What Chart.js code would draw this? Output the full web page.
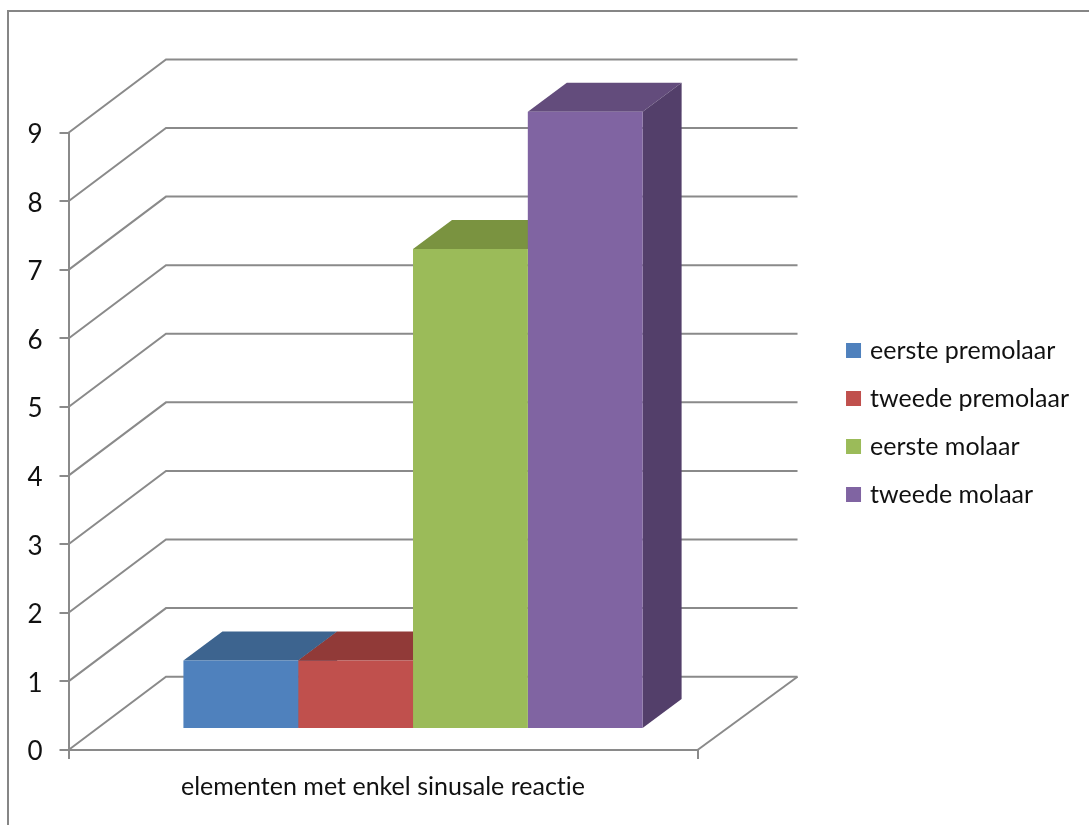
<!DOCTYPE html>
<html>
<head>
<meta charset="utf-8">
<title>Elementen met enkel sinusale reactie</title>
<script src="https://cdn.jsdelivr.net/npm/chart.js@4"></script>
<style>
  html, body { margin: 0; padding: 0; background: #fff; overflow: hidden; }
  #stage { position: relative; width: 1089px; height: 825px; }
  #frame { position: absolute; left: 7px; top: 10px; right: -4px; bottom: -4px;
           border: 2px solid #868686; pointer-events: none; }
  canvas { position: absolute; left: 0; top: 0; }
</style>
</head>
<body>
<div id="stage">
  <div id="frame"></div>
  <canvas id="chart" width="1089" height="825"></canvas>
</div>
<script>
// Data
const categories = ['elementen met enkel sinusale reactie'];
const seriesNames = ['eerste premolaar', 'tweede premolaar', 'eerste molaar', 'tweede molaar'];
const seriesValues = [[1], [1], [7], [9]];
const yTicks = [0, 1, 2, 3, 4, 5, 6, 7, 8, 9];

// Styling for the three visible faces of each column
const frontColors = ['#4F81BD', '#C0504D', '#9BBB59', '#8064A2'];
const topColors = ['#3D648F', '#913A38', '#7A9340', '#634C7C'];
const sideColors = ['#355878', '#7E3230', '#68803A', '#533F6A'];
const axisColor = '#8A8A8A';
const axisWidth = 2;
const fontFamily = 'Lato, "Open Sans", sans-serif';

// Oblique projection of the box: the floor and walls recede to the upper right,
// the columns stand a little way in from the front edge of the floor.
const wallDepth = { dx: 97.5, dy: -73.3 };
const floorRight = 100;
const columnDepth = { dx: 39, dy: -29 };
const columnInset = { dx: 30, dy: -21 };

const box3d = {
  id: 'box3d',
  beforeUpdate(chart) {
    // A tiny letter spacing keeps "ti" from being set as a ligature
    chart.ctx.letterSpacing = '0.01px';
  },
  beforeDraw(chart) {
    chart.ctx.letterSpacing = '0.01px';
  },
  beforeDatasetsDraw(chart) {
    const { ctx } = chart;
    const yScale = chart.scales.y;
    const xScale = chart.scales.x;
    const left = xScale.left;
    const right = xScale.right;
    const zeroY = yScale.getPixelForValue(0);

    ctx.save();
    ctx.strokeStyle = axisColor;
    ctx.lineWidth = axisWidth;
    ctx.lineJoin = 'miter';
    // Gridlines run up the side wall and along the back wall
    yTicks.forEach((tick) => {
      const y = yScale.getPixelForValue(tick);
      ctx.beginPath();
      ctx.moveTo(left, y);
      ctx.lineTo(left + wallDepth.dx, y + wallDepth.dy);
      ctx.lineTo(right + floorRight, y + wallDepth.dy);
      ctx.stroke();
    });
    // Right-hand edge of the floor
    ctx.beginPath();
    ctx.moveTo(right + floorRight, zeroY + wallDepth.dy);
    ctx.lineTo(right, zeroY);
    ctx.stroke();
    ctx.restore();

    // Everything the bar elements draw from here on sits on the floor
    ctx.save();
    ctx.translate(columnInset.dx, columnInset.dy);

    // Tops and sides first, left to right, so each column's front covers its neighbour
    chart.data.datasets.forEach((_, i) => {
      const bar = chart.getDatasetMeta(i).data[0];
      const { x, y, base, width } = bar.getProps(['x', 'y', 'base', 'width'], true);
      const x0 = x - width / 2;
      const x1 = x + width / 2;

      ctx.fillStyle = topColors[i];
      ctx.beginPath();
      ctx.moveTo(x0, y);
      ctx.lineTo(x0 + columnDepth.dx, y + columnDepth.dy);
      ctx.lineTo(x1 + columnDepth.dx, y + columnDepth.dy);
      ctx.lineTo(x1, y);
      ctx.closePath();
      ctx.fill();

      ctx.fillStyle = sideColors[i];
      ctx.beginPath();
      ctx.moveTo(x1, y);
      ctx.lineTo(x1 + columnDepth.dx, y + columnDepth.dy);
      ctx.lineTo(x1 + columnDepth.dx, base + columnDepth.dy);
      ctx.lineTo(x1, base);
      ctx.closePath();
      ctx.fill();
    });
  },
  afterDatasetsDraw(chart) {
    chart.ctx.restore();
  }
};

// Invisible axis whose only job is to reserve room in the layout
function spacer(position, axis, size) {
  return {
    type: 'linear',
    axis,
    position,
    ticks: { display: false },
    grid: { display: false, drawTicks: false },
    border: { display: false },
    afterFit(scale) {
      if (axis === 'x') scale.height = size; else scale.width = size;
    }
  };
}

new Chart(document.getElementById('chart'), {
  type: 'bar',
  plugins: [box3d],
  data: {
    labels: categories,
    datasets: seriesNames.map((name, i) => ({
      label: name,
      data: seriesValues[i],
      backgroundColor: frontColors[i],
      borderWidth: 0,
      clip: false,
      categoryPercentage: 0.73,
      barPercentage: 1
    }))
  },
  options: {
    responsive: false,
    animation: false,
    events: [],
    layout: { padding: { top: 20, right: 10, bottom: 0, left: 0 } },
    plugins: {
      title: { display: false },
      tooltip: { enabled: false },
      legend: {
        display: true,
        position: 'right',
        maxWidth: 265,
        labels: {
          usePointStyle: true,
          pointStyle: 'rect',
          boxWidth: 8,
          boxHeight: 15,
          padding: 23,
          color: '#111',
          font: { family: fontFamily, size: 25 }
        }
      }
    },
    scales: {
      x: {
        position: 'bottom',
        grid: { drawOnChartArea: false, color: axisColor, lineWidth: axisWidth, tickLength: 9, offset: true },
        border: { display: true, color: axisColor, width: axisWidth },
        ticks: { color: '#111', padding: 13, font: { family: fontFamily, size: 25 }, maxRotation: 0 },
        afterFit(scale) { scale.height = 75; }
      },
      y: {
        position: 'left',
        min: 0,
        max: 9,
        grid: { drawOnChartArea: false, color: axisColor, lineWidth: axisWidth, tickLength: 9 },
        border: { display: true, color: axisColor, width: axisWidth },
        ticks: { stepSize: 1, color: '#111', padding: 17, labelOffset: 2, font: { family: fontFamily, size: 26 } },
        afterFit(scale) { scale.width = 68.5; }
      },
      topSpacer: spacer('top', 'x', 112.7),
      rightSpacer: spacer('right', 'y', 129)
    }
  }
});
</script>
</body>
</html>
